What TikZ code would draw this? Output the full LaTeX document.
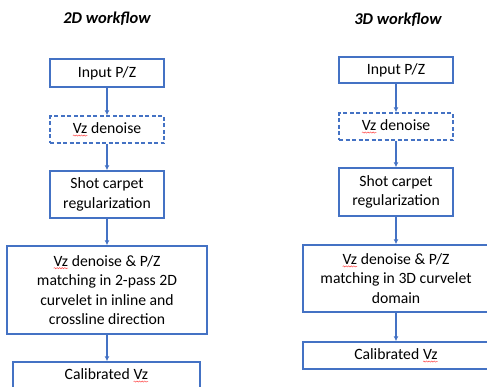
\documentclass[tikz,border=0pt]{standalone}
\usepackage{fontspec}
\setmainfont{Carlito}
\usetikzlibrary{arrows.meta,decorations.pathmorphing}
\definecolor{boxblue}{HTML}{4472C4}
\newcommand{\spellvz}{\tikz[baseline=(v.base), x=1bp, y=1bp]{\node[inner sep=0pt, outer sep=0pt, draw=none, fill=none,
    minimum width=0pt, minimum height=0pt, anchor=base] (v) at (0,0) {Vz};
  \draw[red!75, line width=0.45bp, solid, decorate, decoration={snake, amplitude=0.6bp, segment length=2.6bp}]
   ([yshift=-2bp]v.base west) -- ([yshift=-2bp]v.base east);}}
\tikzset{
  stepbox/.style={draw=boxblue, line width=1.5bp, fill=white, align=center, inner sep=0pt,
    font=\fontsize{15.7bp}{19.5bp}\selectfont},
  dashbox/.style={stepbox, dash pattern=on 4bp off 2.5bp},
  flow/.style={draw=boxblue, line width=1.3bp, -{Latex[length=5bp,width=5bp]}},
  title/.style={font=\fontsize{16.5bp}{20bp}\selectfont\bfseries\itshape}
}
\begin{document}
\begin{tikzpicture}[x=1bp,y=-1bp]
\useasboundingbox (0,0) rectangle (487,386);
\clip (0,0) rectangle (487,386);
% titles
\node[title] (t2) at (107,19) {2D workflow};
\node[title] (t3) at (398,20) {3D workflow};
% 2D column
\node[stepbox, minimum width=114bp, minimum height=28bp] (in2) at (107,73) {Input P/Z};
\node[dashbox, minimum width=114bp, minimum height=27bp] (vz2) at (107,129.5) {\spellvz{} denoise};
\node[stepbox, minimum width=114bp, minimum height=47bp] (sc2) at (107,194.5) {Shot carpet\\regularization};
\node[stepbox, minimum width=200bp, minimum height=88bp] (m2) at (107,290) {\spellvz{} denoise \& P/Z\\matching in 2-pass 2D\\curvelet in inline and\\crossline direction};
\node[stepbox, minimum width=187bp, minimum height=27bp] (c2) at (106.5,375.5) {Calibrated \spellvz};
\draw[flow] (in2) -- (vz2);
\draw[flow] (vz2) -- (sc2);
\draw[flow] (sc2) -- (m2);
\draw[flow] (m2) -- (m2 |- c2.north);
% 3D column
\node[stepbox, minimum width=114bp, minimum height=26bp] (in3) at (396,70) {Input P/Z};
\node[dashbox, minimum width=114bp, minimum height=27bp] (vz3) at (396,126.5) {\spellvz{} denoise};
\node[stepbox, minimum width=114bp, minimum height=48bp] (sc3) at (396,192) {Shot carpet\\regularization};
\node[stepbox, minimum width=186bp, minimum height=67bp] (m3) at (396,278.5) {\spellvz{} denoise \& P/Z\\matching in 3D curvelet\\domain};
\node[stepbox, minimum width=186bp, minimum height=27bp] (c3) at (396,355.5) {Calibrated \spellvz};
\draw[flow] (in3) -- (vz3);
\draw[flow] (vz3) -- (sc3);
\draw[flow] (sc3) -- (m3);
\draw[flow] (m3) -- (c3);
\end{tikzpicture}
\end{document}
